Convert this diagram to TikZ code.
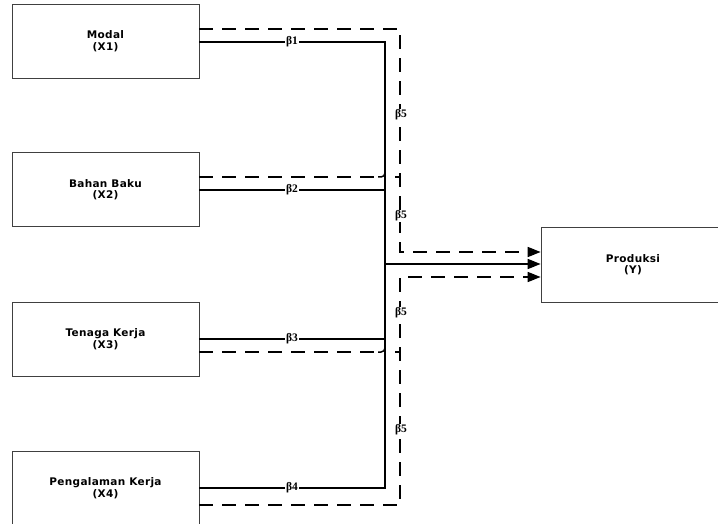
\documentclass[tikz,border=0pt]{standalone}
\usepackage{fontspec}
\usetikzlibrary{arrows.meta}
\newfontfamily\boxfont[LetterSpace=3]{DejaVu Sans}
\newfontfamily\betafont{Liberation Serif}
\begin{document}
\begin{tikzpicture}[x=1pt,y=-1pt,
  varbox/.style={draw=black!75,line width=0.7pt,minimum width=187pt,minimum height=74pt,
    align=center,font=\boxfont\bfseries\fontsize{10.5}{11.5}\selectfont,inner sep=0pt},
  solidline/.style={line width=1.5pt},
  dashline/.style={line width=1.5pt,dash pattern=on 14pt off 9pt},
  tip/.style={-{Triangle[length=13pt,width=10pt]}},
  blabel/.style={fill=white,inner sep=0.8pt,font=\betafont\bfseries\fontsize{11.5}{12}\selectfont}]
\useasboundingbox (0,0) rectangle (718,524);
\begin{scope}
\clip (0,0) rectangle (718,524);
\node[varbox] (x1) at (105.5,41) {Modal\\(X1)};
\node[varbox] (x2) at (105.5,189.5) {Bahan Baku\\(X2)};
\node[varbox] (x3) at (105.5,339) {Tenaga Kerja\\(X3)};
\node[varbox] (x4) at (105.5,488) {Pengalaman Kerja\\(X4)};
\node[varbox,minimum width=184pt,minimum height=75pt] (y) at (633,264.5) {Produksi\\(Y)};
\end{scope}
% junction coordinates
\coordinate (s1) at (385,42);
\coordinate (s2) at (385,190);
\coordinate (s3) at (385,339);
\coordinate (s4) at (385,488);
\coordinate (sm) at (385,264);
\coordinate (d1) at (400,29);
\coordinate (du) at (400,252);
\coordinate (dl) at (400,277);
\coordinate (d4) at (400,505);
\coordinate (d2) at (400,177);
\coordinate (d3) at (400,352);
% solid paths
\draw[solidline] (x1.east |- s1) -- (s1) -- (s4) -- (x4.east |- s4);
\draw[solidline] (x2.east |- s2) -- (s2);
\draw[solidline] (x3.east |- s3) -- (s3);
\draw[solidline,tip] (sm) -- (y.west |- sm);
% dashed paths
\draw[dashline,tip] (x1.east |- d1) -- (d1) -- (du) -- (y.west |- du);
\draw[dashline,tip] (x4.east |- d4) -- (d4) -- (dl) -- (y.west |- dl);
\draw[dashline] (x2.east |- d2) -- (378,177);
\draw[line width=1.5pt] (378,177) -- (381,177) arc[start angle=90,end angle=0,radius=4];
\draw[line width=1.5pt] (395,177) -- (d2);
\draw[dashline] (x3.east |- d3) -- (378,352);
\draw[line width=1.5pt] (378,352) -- (381,352) arc[start angle=90,end angle=0,radius=4];
\draw[line width=1.5pt] (395,352) -- (d3);
% labels
\node[blabel] (b1) at (292,42) {β1};
\node[blabel] (b2) at (292,190) {β2};
\node[blabel] (b3) at (292,339) {β3};
\node[blabel] (b4) at (292,488) {β4};
\node[blabel] (b51) at (401,115) {β5};
\node[blabel] (b52) at (401,216) {β5};
\node[blabel] (b53) at (401,313) {β5};
\node[blabel] (b54) at (401,430) {β5};
\end{tikzpicture}
\end{document}
